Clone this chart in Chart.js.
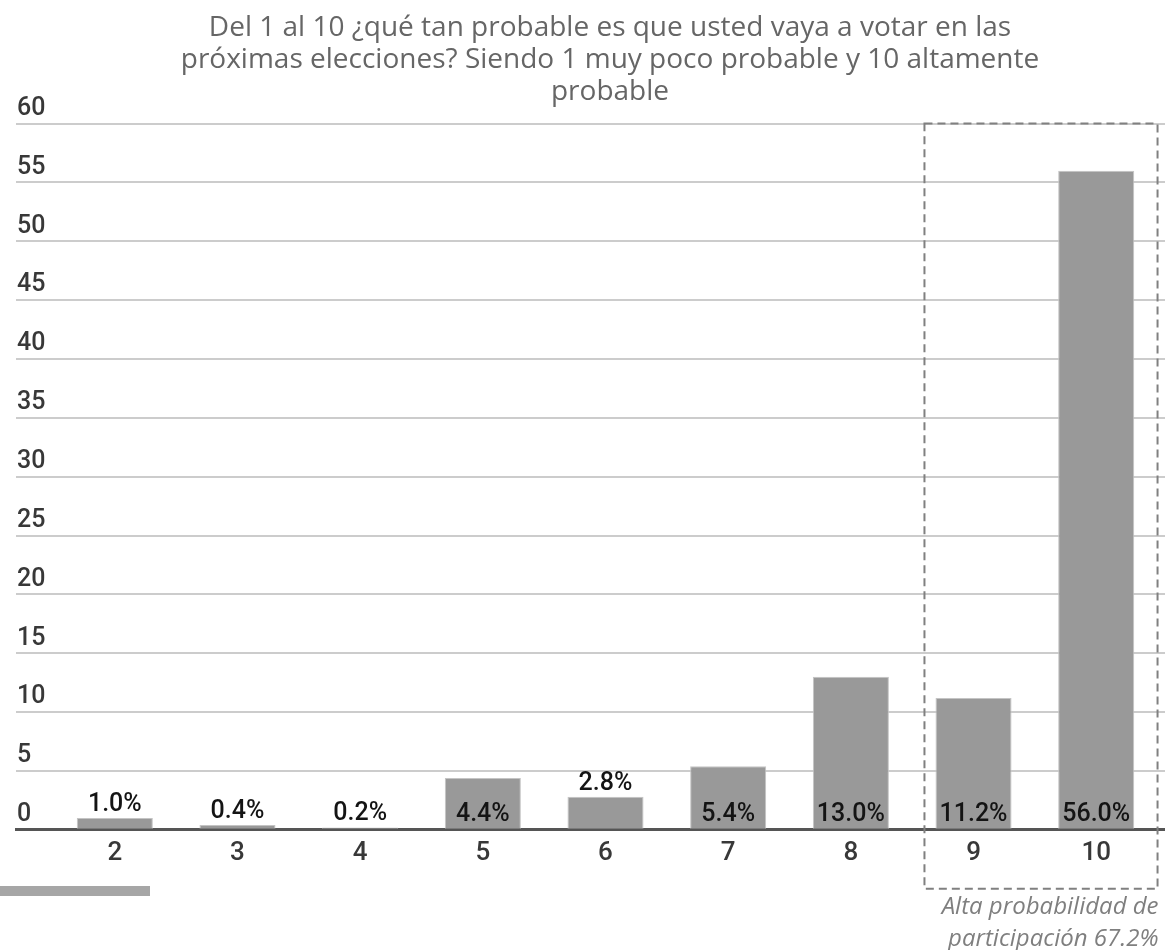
<!DOCTYPE html>
<html>
<head>
<meta charset="utf-8">
<script src="https://cdn.jsdelivr.net/npm/chart.js@4.4.1/dist/chart.umd.min.js"></script>
<style>
  html, body { margin: 0; padding: 0; background: #fff; overflow: hidden; }
  #wrap { position: relative; width: 1206px; height: 950px; }
  #stub { position: absolute; left: 0; top: 886px; width: 150px; height: 10px; background: #a6a6a6; }
</style>
</head>
<body>
<div id="wrap"><canvas id="chart"></canvas><div id="stub"></div></div>
<script>
// Data ------------------------------------------------------------------
var categories = [2, 3, 4, 5, 6, 7, 8, 9, 10];
var values = [1.0, 0.4, 0.2, 4.4, 2.8, 5.4, 13.0, 11.2, 56.0];
var titleLines = [
  "Del 1 al 10 ¿qué tan probable es que usted vaya a votar en las",
  "próximas elecciones? Siendo 1 muy poco probable y 10 altamente",
  "probable"
];
var highlightRange = [8.6, 10.5];          // score range inside the dashed box
var noteLines = ["Alta probabilidad de", "participación 67.2%"];

// Theme -----------------------------------------------------------------
Chart.defaults.font.family = "Roboto, 'Liberation Sans', sans-serif";
Chart.defaults.color = "#383838";

// labels on bars, dashed box and its note
var overlay = {
  id: "overlay",
  afterDatasetsDraw: function (chart) {
    var ctx = chart.ctx, area = chart.chartArea;
    var meta = chart.getDatasetMeta(0);
    var xs = chart.scales.x, ys = chart.scales.y;
    ctx.save();
    ctx.font = "500 25px Roboto";
    ctx.fillStyle = "#141414";
    ctx.textAlign = "center";
    ctx.textBaseline = "alphabetic";
    meta.data.forEach(function (bar, i) {
      var txt = values[i].toFixed(1) + "%";
      if (bar.base - bar.y > 40) ctx.fillText(txt, bar.x, bar.base - 8);
      else ctx.fillText(txt, bar.x, bar.y - 7);
    });

    var l = xs.getPixelForValue(highlightRange[0]);
    var r = xs.getPixelForValue(highlightRange[1]);
    var t = ys.getPixelForValue(ys.max);
    var b = area.bottom + 59;
    ctx.strokeStyle = "#808080";
    ctx.lineWidth = 2;
    ctx.setLineDash([8, 5]);
    ctx.strokeRect(l, t, r - l, b - t);
    ctx.setLineDash([]);

    ctx.font = "italic 24px 'Open Sans'";
    ctx.fillStyle = "#7f7f7f";
    ctx.textAlign = "right";
    ctx.textBaseline = "middle";
    noteLines.forEach(function (s, i) {
      ctx.fillText(s, r + 1, b + 18 + i * 32);
    });
    ctx.restore();
  }
};

new Chart(document.getElementById("chart"), {
  type: "bar",
  data: {
    datasets: [{
      data: categories.map(function (c, i) { return { x: c, y: values[i] }; }),
      backgroundColor: "#999999",
      borderColor: "#c4c4c4",
      borderWidth: 1,
      barPercentage: 0.62,
      categoryPercentage: 1
    }]
  },
  options: {
    responsive: true,
    maintainAspectRatio: false,
    animation: false,
    layout: { padding: { left: 14, right: 0, top: 0, bottom: 73 } },
    plugins: {
      legend: { display: false },
      tooltip: { enabled: false },
      title: {
        display: true,
        text: titleLines,
        color: "#666666",
        font: { family: "'Open Sans'", size: 28, weight: "normal", lineHeight: 1.15 },
        padding: { top: 12, bottom: 15 }
      }
    },
    scales: {
      x: {
        type: "linear",
        offset: false,
        min: 1.1945,
        max: 10.895,
        afterBuildTicks: function (s) { s.ticks = categories.map(function (c) { return { value: c }; }); },
        grid: { display: false, drawTicks: false },
        border: { display: true, color: "#555", width: 3 },
        ticks: { padding: 8, color: "#383838", font: { size: 26, weight: "500" } }
      },
      y: {
        min: 0,
        max: 60,
        ticks: { stepSize: 5, mirror: true, padding: 1, labelOffset: -15, color: "#383838", font: { size: 25, weight: "500" } },
        grid: { color: "#cccccc", lineWidth: 2, drawTicks: false },
        border: { display: false }
      }
    }
  },
  plugins: [overlay]
});
</script>
</body>
</html>
